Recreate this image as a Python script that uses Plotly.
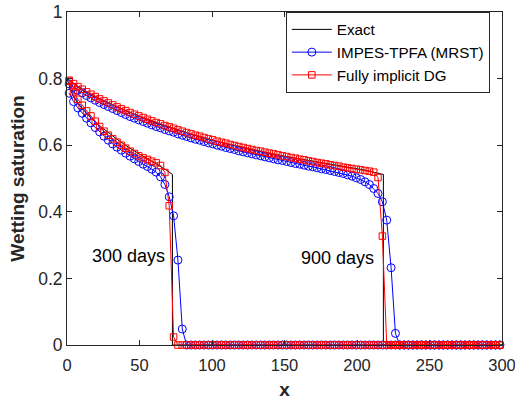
import numpy as np
import plotly.graph_objects as go

# cell centres (100 cells on [0, 300])
x_cells = np.arange(1.5, 300, 3.0)

# Fully implicit DG, 900 days
dg_900 = [
    0.795, 0.785, 0.776, 0.768, 0.760, 0.753, 0.746, 0.739, 0.733, 0.727,
    0.721, 0.715, 0.709, 0.704, 0.698, 0.693, 0.688, 0.683, 0.678, 0.673,
    0.668, 0.664, 0.659, 0.655, 0.651, 0.646, 0.642, 0.638, 0.634, 0.630,
    0.627, 0.623, 0.619, 0.616, 0.612, 0.609, 0.606, 0.602, 0.599, 0.596,
    0.593, 0.590, 0.587, 0.584, 0.582, 0.579, 0.576, 0.574, 0.571, 0.568,
    0.566, 0.563, 0.561, 0.558, 0.556, 0.553, 0.551, 0.548, 0.546, 0.544,
    0.541, 0.539, 0.537, 0.534, 0.532, 0.530, 0.528, 0.526, 0.524, 0.522,
    0.519, 0.503, 0.327, 0, 0, 0, 0, 0, 0, 0,
    0, 0, 0, 0, 0, 0, 0, 0, 0, 0,
    0, 0, 0, 0, 0, 0, 0, 0, 0, 0,
]

# IMPES-TPFA (MRST), 900 days
impes_900 = [
    0.784, 0.774, 0.765, 0.757, 0.749, 0.742, 0.735, 0.728, 0.722, 0.716,
    0.710, 0.704, 0.698, 0.692, 0.686, 0.681, 0.676, 0.671, 0.666, 0.661,
    0.656, 0.652, 0.647, 0.643, 0.639, 0.634, 0.630, 0.626, 0.622, 0.618,
    0.615, 0.611, 0.607, 0.604, 0.600, 0.597, 0.593, 0.590, 0.587, 0.583,
    0.580, 0.577, 0.574, 0.571, 0.568, 0.565, 0.562, 0.559, 0.556, 0.554,
    0.551, 0.548, 0.545, 0.543, 0.540, 0.537, 0.535, 0.532, 0.529, 0.527,
    0.524, 0.521, 0.518, 0.515, 0.511, 0.507, 0.502, 0.497, 0.490, 0.482,
    0.470, 0.455, 0.430, 0.375, 0.232, 0.035, 0, 0, 0, 0,
    0, 0, 0, 0, 0, 0, 0, 0, 0, 0,
    0, 0, 0, 0, 0, 0, 0, 0, 0, 0,
]

# Fully implicit DG, 300 days
dg_300 = [
    0.792, 0.760, 0.738, 0.720, 0.703, 0.688, 0.672, 0.656, 0.642, 0.630,
    0.619, 0.609, 0.600, 0.591, 0.582, 0.575, 0.568, 0.562, 0.557, 0.552,
    0.547, 0.539, 0.518, 0.418, 0.024, 0, 0, 0, 0, 0,
    0, 0, 0, 0, 0, 0, 0, 0, 0, 0,
    0, 0, 0, 0, 0, 0, 0, 0, 0, 0,
    0, 0, 0, 0, 0, 0, 0, 0, 0, 0,
    0, 0, 0, 0, 0, 0, 0, 0, 0, 0,
    0, 0, 0, 0, 0, 0, 0, 0, 0, 0,
    0, 0, 0, 0, 0, 0, 0, 0, 0, 0,
    0, 0, 0, 0, 0, 0, 0, 0, 0, 0,
]

# IMPES-TPFA (MRST), 300 days
impes_300 = [
    0.756, 0.731, 0.712, 0.696, 0.681, 0.667, 0.653, 0.640, 0.627, 0.615,
    0.604, 0.594, 0.585, 0.576, 0.567, 0.559, 0.551, 0.543, 0.536, 0.528,
    0.519, 0.505, 0.482, 0.445, 0.388, 0.255, 0.048, 0, 0, 0,
    0, 0, 0, 0, 0, 0, 0, 0, 0, 0,
    0, 0, 0, 0, 0, 0, 0, 0, 0, 0,
    0, 0, 0, 0, 0, 0, 0, 0, 0, 0,
    0, 0, 0, 0, 0, 0, 0, 0, 0, 0,
    0, 0, 0, 0, 0, 0, 0, 0, 0, 0,
    0, 0, 0, 0, 0, 0, 0, 0, 0, 0,
    0, 0, 0, 0, 0, 0, 0, 0, 0, 0,
]

# Exact solutions
exact_x_300 = [0, 0.5, 1.5, 3, 5, 8, 12, 16, 20, 25, 30, 36, 43, 50, 57, 64, 69, 72.7, 72.7, 300]
exact_y_300 = [0.800, 0.792, 0.778, 0.760, 0.743, 0.722, 0.702, 0.685, 0.668, 0.650,
               0.632, 0.613, 0.592, 0.574, 0.557, 0.538, 0.524, 0.512, 0, 0]
exact_x_900 = [0, 1.5, 4.5, 9, 15, 24, 36, 48, 60, 75, 90, 108, 129, 150, 171, 192, 207, 218.2, 218.2, 300]
exact_y_900 = [0.800, 0.795, 0.785, 0.770, 0.753, 0.735, 0.712, 0.690, 0.668, 0.648,
               0.627, 0.606, 0.585, 0.567, 0.551, 0.535, 0.524, 0.512, 0, 0]

x_ticks = [0, 50, 100, 150, 200, 250, 300]
y_ticks = [0, 0.2, 0.4, 0.6, 0.8, 1]
y_tick_text = ["0", "0.2", "0.4", "0.6", "0.8", "1"]

labels = ["Exact", "IMPES-TPFA (MRST)", "Fully implicit DG"]
time_labels = ["300 days", "900 days"]
time_label_pos = [(42.3, 0.267), (186.4, 0.26)]

FONT = "Liberation Sans, Arial, Helvetica, sans-serif"
AX = "#262626"

fig = go.Figure()

for k, (ex, ey) in enumerate([(exact_x_300, exact_y_300), (exact_x_900, exact_y_900)]):
    fig.add_trace(go.Scatter(x=ex, y=ey, mode="lines", name=labels[0],
                             legendgroup="exact", showlegend=(k == 0),
                             line=dict(color="black", width=1), cliponaxis=False))

for k, ys in enumerate([impes_300, impes_900]):
    fig.add_trace(go.Scatter(x=x_cells, y=ys, mode="lines+markers", name=labels[1],
                             legendgroup="impes", showlegend=(k == 0),
                             line=dict(color="#0000ff", width=1),
                             marker=dict(symbol="circle-open", size=8, color="#0000ff",
                                         line=dict(width=1)),
                             cliponaxis=False))

for k, ys in enumerate([dg_300, dg_900]):
    fig.add_trace(go.Scatter(x=x_cells, y=ys, mode="lines+markers", name=labels[2],
                             legendgroup="dg", showlegend=(k == 0),
                             line=dict(color="#ff0000", width=1),
                             marker=dict(symbol="square-open", size=6.5, color="#ff0000",
                                         line=dict(width=1)),
                             cliponaxis=False))

for txt, (tx, ty) in zip(time_labels, time_label_pos):
    fig.add_annotation(x=tx, y=ty, text=txt, showarrow=False,
                       font=dict(family=FONT, size=18, color="black"))

axis_common = dict(showline=True, linecolor=AX, linewidth=1, mirror="ticks",
                   ticks="inside", ticklen=5, tickcolor=AX, tickwidth=1,
                   showgrid=False, zeroline=False, ticklabeloverflow="allow",
                   automargin=False)

fig.update_layout(
    width=515, height=400,
    margin=dict(l=67, r=13, t=12, b=55, autoexpand=False),
    paper_bgcolor="white", plot_bgcolor="white",
    xaxis=dict(range=[0, 300], tickvals=x_ticks, ticklabelstandoff=5,
               tickfont=dict(family=FONT, size=16.5, color=AX),
               title=dict(text="<b>x</b>", font=dict(family=FONT, size=19, color=AX), standoff=11),
               **axis_common),
    yaxis=dict(range=[0, 1], tickvals=y_ticks, ticktext=y_tick_text,
               tickfont=dict(family=FONT, size=17.5, color=AX),
               title=dict(text="<b>Wetting saturation</b>", font=dict(family=FONT, size=19, color=AX), standoff=8),
               **axis_common),
    legend=dict(x=0.972, y=1.0, xanchor="right", yanchor="top",
                bgcolor="white", bordercolor=AX, borderwidth=1,
                font=dict(family=FONT, size=15.2, color="black"),
                itemwidth=40, tracegroupgap=0),
    showlegend=True,
)

fig.write_html("out.html")
